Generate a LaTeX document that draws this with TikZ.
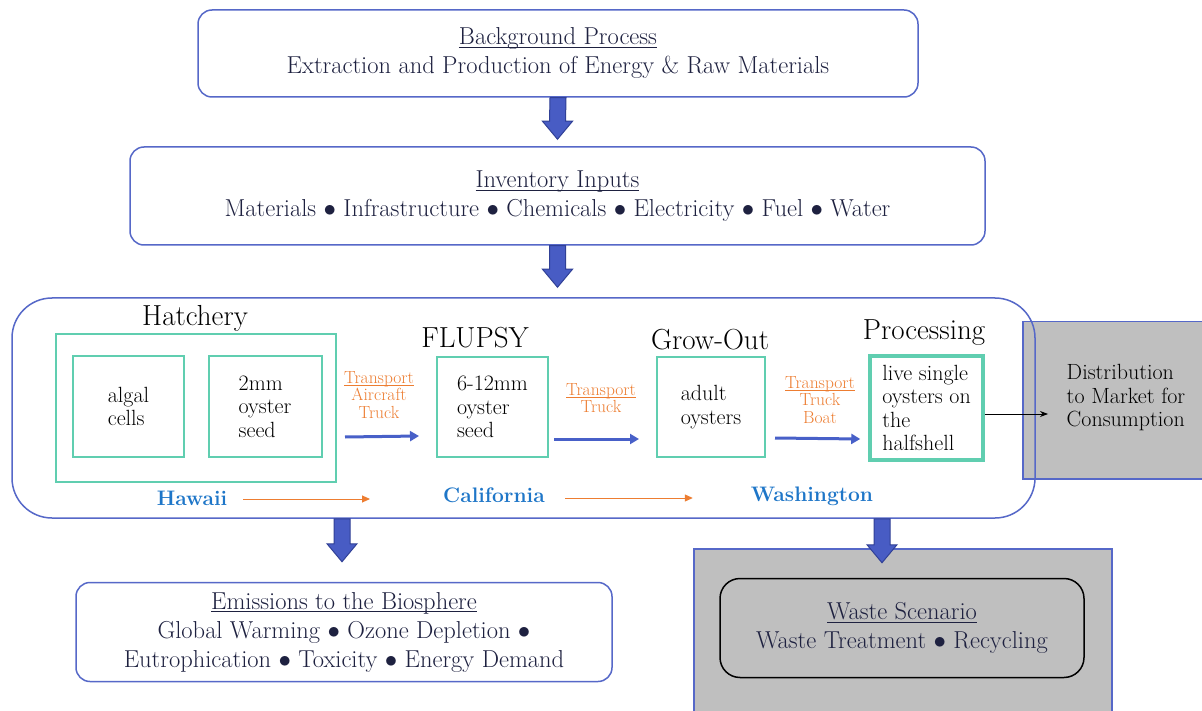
\documentclass[tikz,border=0pt]{standalone}
\usetikzlibrary{calc,arrows.meta}
\definecolor{boxblue}{RGB}{86,104,200}
\definecolor{ink}{RGB}{30,33,64}
\definecolor{teal2}{RGB}{96,206,176}
\definecolor{orange2}{RGB}{237,125,49}
\definecolor{regionblue}{RGB}{30,118,200}
\definecolor{flowblue}{RGB}{72,96,200}
\definecolor{arrowfill}{RGB}{72,92,196}
\definecolor{arrowedge}{RGB}{48,64,150}
\definecolor{gray75}{RGB}{191,191,191}
\newcommand\blockdown[2]{\draw[blockarr] ($(#1)+(-8,0)$) -- ($(#2)+(-8,-18)$) -- ($(#2)+(-15,-18)$) -- (#2) -- ($(#2)+(15,-18)$) -- ($(#2)+(8,-18)$) -- ($(#1)+(8,0)$) -- cycle;}
\newcommand\sep{ $\bullet$ }
\newcommand\ul[1]{\setbox0\hbox{#1}\rlap{\rule[-0.14em]{\wd0}{0.05em}}\box0}

\begin{document}
\begin{tikzpicture}[x=1pt,y=-1pt,
	bluebox/.style={draw=boxblue, line width=1.5pt, rounded corners=14pt, align=center, text=ink, font=\fontsize{24.5}{29}\selectfont},
	tealbox/.style={draw=teal2, line width=2pt, align=left, font=\fontsize{22}{23.5}\selectfont},
	stagelabel/.style={font=\fontsize{29}{32}\selectfont},
	transport/.style={text=orange2, align=center, font=\fontsize{17.5}{17.5}\selectfont},
	region/.style={text=regionblue, inner sep=0pt, font=\bfseries\fontsize{21}{24}\selectfont},
	flow/.style={draw=flowblue, line width=3pt, -{Triangle[length=9pt,width=10pt]}},
	trip/.style={draw=orange2, line width=1pt, -{Triangle[length=8pt,width=7pt]}},
	blockarr/.style={fill=arrowfill, draw=arrowedge, line width=1pt},
	graybox/.style={draw=boxblue, fill=gray75, line width=1.5pt, anchor=north west}]
	%%%%% START %%%%%
	
	\fill[white] (0,0) rectangle (1202,711);
	\useasboundingbox (0,0) rectangle (1202,711);
	
	\node[bluebox, minimum width=720pt, minimum height=87pt] (bg) at (558,53.5) {\ul{Background Process}\\Extraction and Production of Energy \& Raw Materials};
	\node[bluebox, minimum width=855pt, minimum height=98pt] (inv) at (557.5,196) {\ul{Inventory Inputs}\\Materials\sep Infrastructure\sep Chemicals\sep Electricity\sep Fuel\sep Water};
	
	% side boxes in grey
	\node[graybox, minimum width=190pt, minimum height=157pt] (distbox) at (1022,321) {};
	\node[align=left, font=\fontsize{22}{23.5}\selectfont] (dist) at (1126,398) {Distribution\\to Market for\\Consumption};
	\node[graybox, minimum width=418pt, minimum height=175pt] (wastebg) at (693,548) {};
	
	\node[draw=boxblue, line width=1.5pt, rounded corners=40pt, minimum width=1023pt, minimum height=220pt] (main) at (523.5,408) {};
	
	% stages
	\node[stagelabel] (hatchlbl) at (195,318) {Hatchery};
	\node[draw=teal2, line width=2pt, minimum width=280pt, minimum height=148pt] (hatch) at (196,408) {};
	\node[tealbox, minimum width=111pt, minimum height=101pt] (algae) at (128.5,406.5) {algal\\cells};
	\node[tealbox, minimum width=113pt, minimum height=101pt] (seed) at (265,406.5) {2mm\\oyster\\seed};
	
	\node[stagelabel] (flulbl) at (475,338) {FLUPSY};
	\node[tealbox, minimum width=111pt, minimum height=100pt] (flupsy) at (492.5,407) {6-12mm\\oyster\\seed};
	
	\node[stagelabel] (growlbl) at (710,340) {Grow-Out};
	\node[tealbox, minimum width=108pt, minimum height=100pt] (grow) at (711,407) {adult\\oysters};
	
	\node[stagelabel] (proclbl) at (924,333) {Processing};
	\node[tealbox, line width=3.5pt, minimum width=113pt, minimum height=104pt] (proc) at (926.5,408) {live single\\oysters on\\the\\halfshell};
	
	% transport between stages
	\node[transport] (tr1) at (379,395) {\ul{Transport}\\Aircraft\\Truck};
	\node[transport] (tr2) at (601,398) {\ul{Transport}\\Truck};
	\node[transport] (tr3) at (820,400) {\ul{Transport}\\Truck\\Boat};
	\draw[flow] ($(hatch.east)+(8,29)$) -- ($(flupsy.west)+(-17,29)$);
	\draw[flow] ($(flupsy.east)+(5,32)$) -- ($(grow.west)+(-17,32)$);
	\draw[flow] ($(grow.east)+(9,31)$) -- ($(proc.west)+(-8,31)$);
	\draw[-{Stealth[length=8pt,width=6pt]}, line width=0.8pt] ($(proc.east)+(0,6)$) -- ($(distbox.west |- proc.east)+(26,6)$);
	
	% regions
	\node[region] (hawaii) at (192,498) {Hawaii};
	\node[region] (calif) at (494,495) {California};
	\node[region] (wash) at (812,496) {Washington};
	\draw[trip] ($(hawaii.east)+(16,1)$) -- ($(calif.west)+(-73,4)$);
	\draw[trip] ($(calif.east)+(20,3)$) -- ($(wash.west)+(-58,2)$);
	
	% outputs
	\node[bluebox, minimum width=536pt, minimum height=99pt] (emis) at (344,632) {\ul{Emissions to the Biosphere}\\Global Warming\sep Ozone Depletion\sep\\Eutrophication\sep Toxicity\sep Energy Demand};
	\node[bluebox, draw=black, rounded corners=20pt, minimum width=364pt, minimum height=99pt] (waste) at (902,628) {\ul{Waste Scenario}\\Waste Treatment\sep Recycling};
	
	% block arrows
	\blockdown{bg.south}{$(inv.north)+(0,-7)$}
	\blockdown{inv.south}{$(inv.south |- main.north)+(0,-10)$}
	\blockdown{$(main.south -| emis.north)+(-2,0)$}{$(emis.north)+(-2,-20)$}
	\blockdown{$(main.south -| waste.north)+(-20,0)$}{$(main.south -| waste.north)+(-20,44)$}
	
	%%%%% END %%%%%
\end{tikzpicture}
\end{document}
